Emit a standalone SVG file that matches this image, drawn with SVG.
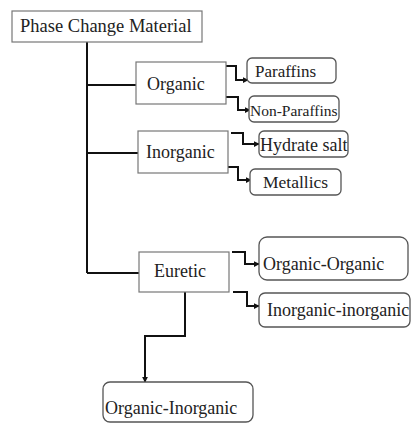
<svg xmlns="http://www.w3.org/2000/svg" width="411" height="423" viewBox="0 0 411 423">
<defs>
<marker id="arr" viewBox="0 0 8 8" refX="7" refY="4" markerWidth="6" markerHeight="6" orient="auto" markerUnits="userSpaceOnUse">
<path d="M0,0 L8,4 L0,8 z" fill="#111"/>
</marker>
<style>
.sq{fill:#fff;stroke:#777;stroke-width:1.2}
.rd{fill:#fff;stroke:#555;stroke-width:1.3}
text{font-family:"Liberation Serif","Times New Roman",serif;font-size:18px;fill:#222}
.c{fill:none;stroke:#111;stroke-width:2}
.ca{fill:none;stroke:#111;stroke-width:2;marker-end:url(#arr)}
</style>
</defs>
<rect width="411" height="423" fill="#fff"/>
<g id="connectors">
<path class="c" d="M87,42 V273"/>
<path class="c" d="M87,85 H136"/>
<path class="c" d="M87,153 H138"/>
<path class="c" d="M87,273 H139"/>
<path class="ca" d="M226,66 H236 V80 H248"/>
<path class="ca" d="M226,97 H238 V110 H250"/>
<path class="ca" d="M231,133 H243 V144 H259"/>
<path class="ca" d="M227,167 H238 V180 H251"/>
<path class="ca" d="M232,252 H245 V264 H259"/>
<path class="ca" d="M233,292 H247 V306 H259"/>
<path class="ca" d="M185,292 V336 H145 V382"/>
</g>
<g id="pcm"><rect class="sq" x="12" y="11" width="190" height="31"/><text x="20" y="32" style="font-size:18.5px">Phase Change Material</text></g>
<g id="organic"><rect class="sq" x="136" y="62" width="90" height="42"/><text x="147" y="90">Organic</text></g>
<g id="inorganic"><rect class="sq" x="138" y="131" width="90" height="42"/><text x="146" y="158">Inorganic</text></g>
<g id="euretic"><rect class="sq" x="139" y="252" width="90" height="40"/><text x="154" y="277">Euretic</text></g>
<g id="paraffins"><rect class="rd" x="247" y="58" width="89" height="25" rx="5"/><text x="255" y="77" style="font-size:17px">Paraffins</text></g>
<g id="nonparaffins"><rect class="rd" x="249" y="96" width="90" height="26" rx="5"/><text x="250" y="116" style="font-size:15.5px">Non-Paraffins</text></g>
<g id="hydrate"><rect class="rd" x="259" y="131" width="89" height="26" rx="5"/><text x="260" y="151">Hydrate salt</text></g>
<g id="metallics"><rect class="rd" x="250" y="169" width="91" height="26" rx="5"/><text x="263" y="188" style="font-size:17.5px">Metallics</text></g>
<g id="orgorg"><rect class="rd" x="259" y="237" width="149" height="43" rx="8"/><text x="263" y="270">Organic-Organic</text></g>
<g id="inoinor"><rect class="rd" x="259" y="293" width="151" height="34" rx="6"/><text x="267" y="316">Inorganic-inorganic</text></g>
<g id="orginor"><rect class="rd" x="103" y="382" width="150" height="40" rx="7"/><text x="105" y="414">Organic-Inorganic</text></g>
</svg>
